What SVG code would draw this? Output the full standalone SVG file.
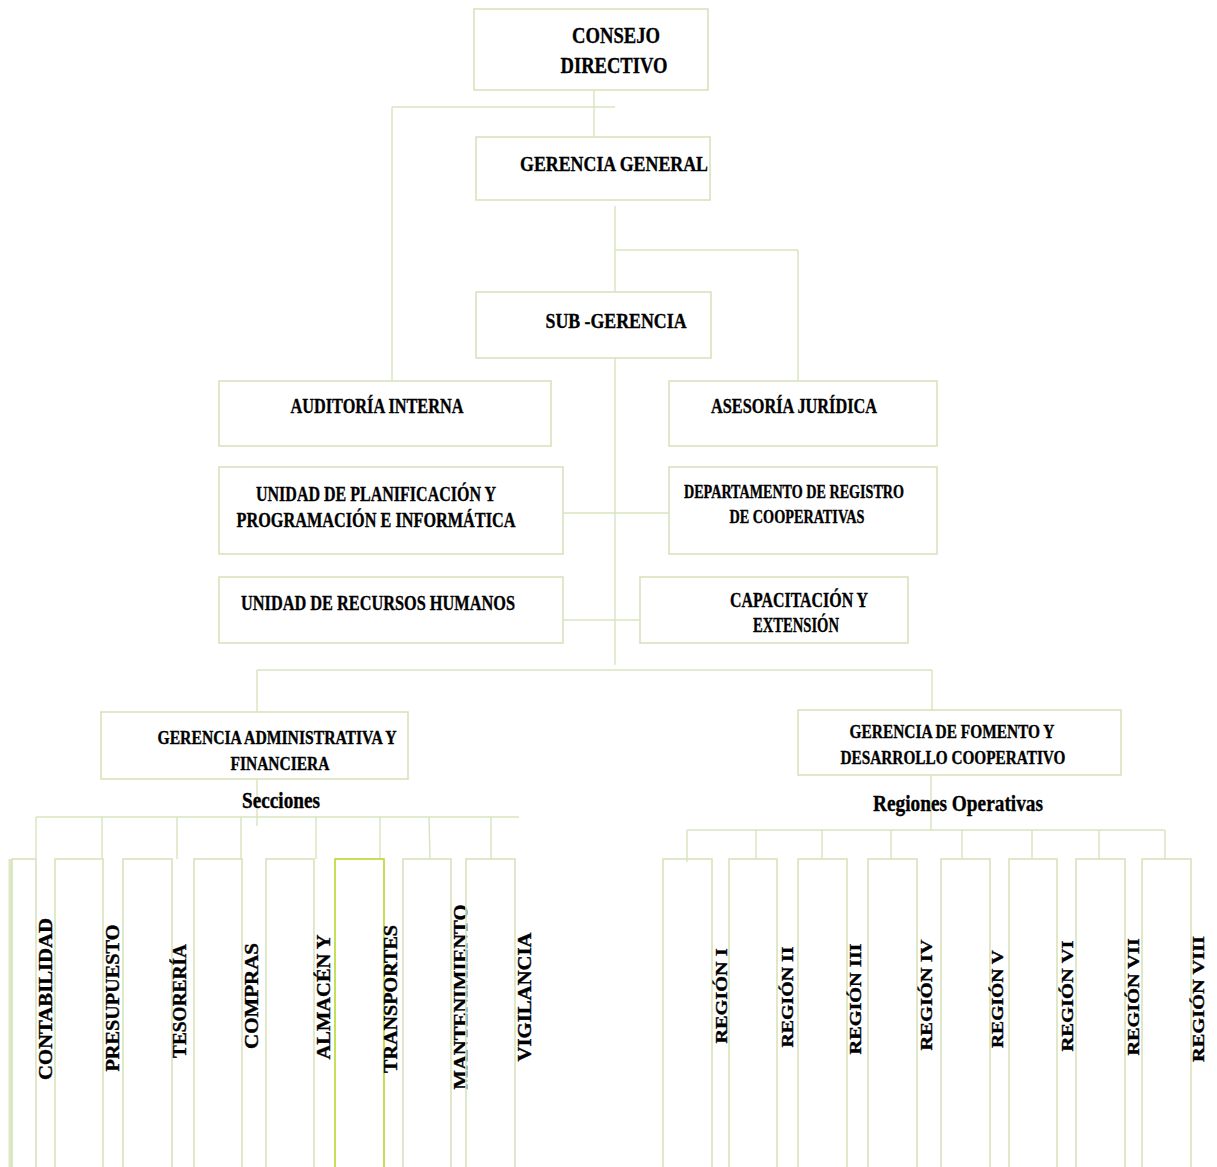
<svg xmlns="http://www.w3.org/2000/svg" width="1217" height="1167" viewBox="0 0 1217 1167">
<style>
.bx{fill:#fff;stroke:#d7e4bd;stroke-width:1.6}
.col{fill:none;stroke:#d7e4bd;stroke-width:1.6}
.col2{fill:none;stroke:#b8d82e;stroke-width:1.6}
.ln{stroke:#d7e4bd;stroke-width:1.4;fill:none}
.t{font-family:"Liberation Serif","Times New Roman",serif;font-weight:bold;fill:#000;stroke:#000;stroke-width:0.35;text-anchor:middle}
.m{font-size:22px}
.s{font-size:18px}
.g{font-size:19px}
.v{font-size:18px}
.r{font-size:16px}
</style>
<rect width="1217" height="1167" fill="#fff"/>
<g id="connectors">
<line class="ln" x1="594" y1="91" x2="594" y2="137"/>
<line class="ln" x1="392" y1="107" x2="615" y2="107"/>
<line class="ln" x1="392" y1="107" x2="392" y2="381"/>
<line class="ln" x1="615" y1="206" x2="615" y2="292"/>
<line class="ln" x1="615" y1="250" x2="798" y2="250"/>
<line class="ln" x1="798" y1="250" x2="798" y2="381"/>
<line class="ln" x1="615" y1="358" x2="615" y2="665"/>
<line class="ln" x1="563" y1="513" x2="669" y2="513"/>
<line class="ln" x1="563" y1="620" x2="669" y2="620"/>
<line class="ln" x1="257" y1="670" x2="932" y2="670"/>
<line class="ln" x1="257" y1="670" x2="257" y2="712"/>
<line class="ln" x1="932" y1="670" x2="932" y2="710"/>
<line class="ln" x1="257" y1="779" x2="257" y2="826"/>
<line class="ln" x1="36" y1="817" x2="519" y2="817"/>
<line class="ln" x1="36" y1="817" x2="36" y2="859"/>
<line class="ln" x1="102" y1="817" x2="102" y2="859"/>
<line class="ln" x1="177" y1="817" x2="177" y2="859"/>
<line class="ln" x1="241" y1="817" x2="241" y2="859"/>
<line class="ln" x1="316" y1="817" x2="316" y2="859"/>
<line class="ln" x1="380" y1="817" x2="380" y2="859"/>
<line class="ln" x1="429" y1="817" x2="430" y2="859"/>
<line class="ln" x1="491" y1="817" x2="491" y2="859"/>
<line class="ln" x1="931" y1="775" x2="931" y2="830"/>
<line class="ln" x1="687" y1="830" x2="1165" y2="830"/>
<line class="ln" x1="687" y1="830" x2="687" y2="862"/>
<line class="ln" x1="756" y1="830" x2="756" y2="859"/>
<line class="ln" x1="822" y1="830" x2="822" y2="859"/>
<line class="ln" x1="891" y1="830" x2="891" y2="859"/>
<line class="ln" x1="962" y1="830" x2="962" y2="859"/>
<line class="ln" x1="1032" y1="830" x2="1032" y2="859"/>
<line class="ln" x1="1099" y1="830" x2="1099" y2="859"/>
<line class="ln" x1="1165" y1="830" x2="1165" y2="859"/>
</g>
<g id="consejo"><rect class="bx" x="474" y="9" width="234" height="81"/>
<text class="t" x="616" y="43" style="font-size:24px" textLength="88" lengthAdjust="spacingAndGlyphs">CONSEJO</text>
<text class="t" x="614" y="73" style="font-size:24px" textLength="107" lengthAdjust="spacingAndGlyphs">DIRECTIVO</text></g>
<g id="gerencia-general"><rect class="bx" x="476" y="137" width="234" height="63"/>
<text class="t m" x="614" y="171" textLength="188" lengthAdjust="spacingAndGlyphs">GERENCIA GENERAL</text></g>
<g id="sub-gerencia"><rect class="bx" x="476" y="292" width="235" height="66"/>
<text class="t m" x="616" y="328" textLength="141" lengthAdjust="spacingAndGlyphs">SUB -GERENCIA</text></g>
<g id="auditoria"><rect class="bx" x="219" y="381" width="332" height="65"/>
<text class="t m" x="377" y="413" textLength="173" lengthAdjust="spacingAndGlyphs">AUDITORÍA INTERNA</text></g>
<g id="asesoria"><rect class="bx" x="669" y="381" width="268" height="65"/>
<text class="t m" x="794" y="413" textLength="166" lengthAdjust="spacingAndGlyphs">ASESORÍA JURÍDICA</text></g>
<g id="planificacion"><rect class="bx" x="219" y="467" width="344" height="87"/>
<text class="t m" x="376" y="501" textLength="240" lengthAdjust="spacingAndGlyphs">UNIDAD DE PLANIFICACIÓN Y</text>
<text class="t m" x="376" y="527" textLength="279" lengthAdjust="spacingAndGlyphs">PROGRAMACIÓN E INFORMÁTICA</text></g>
<g id="registro"><rect class="bx" x="669" y="467" width="268" height="87"/>
<text class="t s" x="794" y="498" textLength="220" lengthAdjust="spacingAndGlyphs">DEPARTAMENTO DE REGISTRO</text>
<text class="t s" x="797" y="523" textLength="135" lengthAdjust="spacingAndGlyphs">DE COOPERATIVAS</text></g>
<g id="rrhh"><rect class="bx" x="219" y="577" width="344" height="66"/>
<text class="t m" x="378" y="610" textLength="274" lengthAdjust="spacingAndGlyphs">UNIDAD DE RECURSOS HUMANOS</text></g>
<g id="capacitacion"><rect class="bx" x="640" y="577" width="268" height="66"/>
<text class="t m" x="799" y="607" textLength="138" lengthAdjust="spacingAndGlyphs">CAPACITACIÓN Y</text>
<text class="t m" x="796" y="632" textLength="86" lengthAdjust="spacingAndGlyphs">EXTENSIÓN</text></g>
<g id="gerencia-admin"><rect class="bx" x="101" y="712" width="307" height="67"/>
<text class="t g" x="277" y="744" textLength="239" lengthAdjust="spacingAndGlyphs">GERENCIA ADMINISTRATIVA Y</text>
<text class="t g" x="280" y="770" textLength="99" lengthAdjust="spacingAndGlyphs">FINANCIERA</text></g>
<g id="secciones"><text class="t" x="281" y="808" style="font-size:23px" textLength="78" lengthAdjust="spacingAndGlyphs">Secciones</text></g>
<g id="gerencia-fomento"><rect class="bx" x="798" y="710" width="323" height="65"/>
<text class="t g" x="952" y="738" textLength="205" lengthAdjust="spacingAndGlyphs">GERENCIA DE FOMENTO Y</text>
<text class="t g" x="953" y="764" textLength="225" lengthAdjust="spacingAndGlyphs">DESARROLLO COOPERATIVO</text></g>
<g id="regiones"><text class="t" x="958" y="811" style="font-size:23px" textLength="170" lengthAdjust="spacingAndGlyphs">Regiones Operativas</text></g>
<g id="contabilidad"><line x1="10.5" y1="859" x2="10.5" y2="1167" stroke="#dde8c6" stroke-width="4"/><rect class="col" x="12" y="859" width="24" height="320"/>
<text class="t v" transform="translate(52,999) rotate(-90)" textLength="162" lengthAdjust="spacingAndGlyphs">CONTABILIDAD</text></g>
<g id="presupuesto"><rect class="col" x="55" y="859" width="48" height="320"/>
<text class="t v" transform="translate(119,998) rotate(-90)" textLength="147" lengthAdjust="spacingAndGlyphs">PRESUPUESTO</text></g>
<g id="tesoreria"><rect class="col" x="123" y="859" width="49" height="320"/>
<text class="t v" transform="translate(186,1001) rotate(-90)" textLength="114" lengthAdjust="spacingAndGlyphs">TESORERÍA</text></g>
<g id="compras"><rect class="col" x="194" y="859" width="48" height="320"/>
<text class="t v" transform="translate(258,996) rotate(-90)" textLength="106" lengthAdjust="spacingAndGlyphs">COMPRAS</text></g>
<g id="almacen"><rect class="col" x="266" y="859" width="48" height="320"/>
<text class="t v" transform="translate(330,997) rotate(-90)" textLength="125" lengthAdjust="spacingAndGlyphs">ALMACÉN Y</text></g>
<g id="transportes"><rect class="col2" x="335" y="859" width="49" height="320"/>
<text class="t v" transform="translate(397,999) rotate(-90)" textLength="148" lengthAdjust="spacingAndGlyphs">TRANSPORTES</text></g>
<g id="mantenimiento"><rect class="col" x="403" y="859" width="48" height="320"/>
<text class="t v" transform="translate(467,997) rotate(-90)" textLength="185" lengthAdjust="spacingAndGlyphs">MANTENIMIENTO</text></g>
<g id="vigilancia"><rect class="col" x="466" y="859" width="49" height="320"/>
<text class="t v" transform="translate(531,997) rotate(-90)" textLength="129" lengthAdjust="spacingAndGlyphs">VIGILANCIA</text></g>
<g id="region-1"><rect class="col" x="663" y="859" width="49" height="320"/>
<text class="t r" transform="translate(727,996) rotate(-90)" textLength="95" lengthAdjust="spacingAndGlyphs">REGIÓN I</text></g>
<g id="region-2"><rect class="col" x="729" y="859" width="48" height="320"/>
<text class="t r" transform="translate(793,997) rotate(-90)" textLength="101" lengthAdjust="spacingAndGlyphs">REGIÓN II</text></g>
<g id="region-3"><rect class="col" x="798" y="859" width="49" height="320"/>
<text class="t r" transform="translate(861,999) rotate(-90)" textLength="111" lengthAdjust="spacingAndGlyphs">REGIÓN III</text></g>
<g id="region-4"><rect class="col" x="868" y="859" width="49" height="320"/>
<text class="t r" transform="translate(932,995) rotate(-90)" textLength="111" lengthAdjust="spacingAndGlyphs">REGIÓN IV</text></g>
<g id="region-5"><rect class="col" x="941" y="859" width="49" height="320"/>
<text class="t r" transform="translate(1003,999) rotate(-90)" textLength="98" lengthAdjust="spacingAndGlyphs">REGIÓN V</text></g>
<g id="region-6"><rect class="col" x="1009" y="859" width="48" height="320"/>
<text class="t r" transform="translate(1073,996) rotate(-90)" textLength="111" lengthAdjust="spacingAndGlyphs">REGIÓN VI</text></g>
<g id="region-7"><rect class="col" x="1076" y="859" width="49" height="320"/>
<text class="t r" transform="translate(1139,997) rotate(-90)" textLength="117" lengthAdjust="spacingAndGlyphs">REGIÓN VII</text></g>
<g id="region-8"><rect class="col" x="1142" y="859" width="49" height="320"/>
<text class="t r" transform="translate(1204,999) rotate(-90)" textLength="126" lengthAdjust="spacingAndGlyphs">REGIÓN VIII</text></g>
</svg>
